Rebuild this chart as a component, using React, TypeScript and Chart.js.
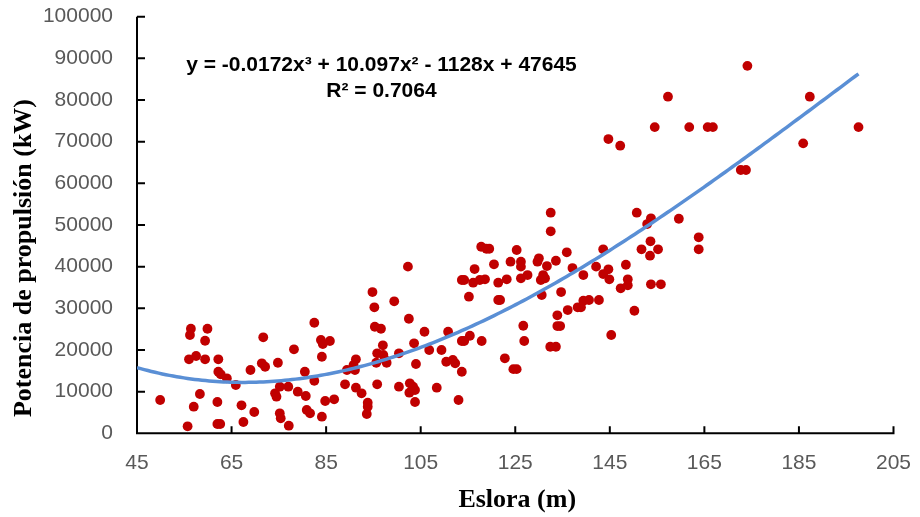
import React, { useEffect, useRef } from "react";
import { Chart, registerables } from "chart.js";

Chart.register(...registerables);

// ---- Data ----
const eslora: number[] = [
  49.9, 55.7, 56.0, 56.2, 56.4, 57.0, 57.5, 58.3, 59.4, 59.4, 59.9, 62.0, 62.0, 62.6, 62.2, 62.2, 62.7, 64.0, 65.9, 67.1,
  67.5, 69.0, 69.8, 71.4, 71.7, 72.1, 74.2, 74.5, 74.8, 75.2, 75.2, 75.4, 77.0, 77.1, 78.2, 79.0, 80.5, 80.7, 80.9, 81.6,
  82.5, 82.5, 83.9, 84.3, 84.1, 84.1, 84.8, 85.8, 86.7,
  89.0, 89.4, 90.8, 91.1, 91.3, 91.3, 92.5, 93.6, 93.8, 93.8, 94.8, 95.2, 95.3, 95.6, 95.8, 95.8, 96.6, 97.0, 97.1, 97.5,
  97.8, 99.4, 100.4, 100.4, 102.3, 102.5, 102.6, 102.7, 103.4, 103.6, 103.8, 103.8, 104.0, 105.8, 106.8, 108.4, 109.4, 110.4,
  110.8, 111.8, 112.3, 113.0, 113.7, 113.7, 113.7, 114.2, 114.2, 115.2, 115.4, 116.1, 116.4, 117.5, 117.8, 117.9, 118.6,
  118.9, 119.5, 120.5, 121.4, 121.4, 121.8,
  122.8, 123.2, 124.0, 124.6, 125.3, 125.3, 126.2, 126.2, 126.2, 126.7, 126.9, 127.6, 129.7, 130.0, 130.4, 130.6, 130.9,
  131.3, 131.7, 132.4, 132.5, 132.5, 133.6, 133.6, 133.9, 133.9, 134.5, 134.7, 135.9, 136.1, 137.1, 138.2, 138.9, 139.4,
  139.4, 140.6, 142.1, 142.7, 143.6, 143.6, 144.7, 144.9, 145.3, 147.3, 148.4, 148.8, 148.8, 150.2, 150.7, 151.7, 153.5,
  153.7, 155.8,
  144.7, 147.2, 152.9, 153.6, 153.7, 155.2, 154.5, 157.3, 159.6, 161.8, 163.8, 163.8, 165.7, 166.8, 172.7, 173.8, 174.1,
  185.9, 187.3, 197.6,
];

const potencia: number[] = [
  7990, 1680, 17760, 23590, 25100, 6380, 18550, 9430, 17760, 22220, 25100, 7510, 2230, 2230, 17760, 14780, 14160, 13200, 11590, 6720,
  2710, 15190, 5110, 16800, 23040, 15980, 9600, 8780, 16940, 11180, 4800, 3600, 11180, 1820, 20160, 9980, 14780, 8950, 5590, 4800,
  26540, 12620, 22390, 21430, 18380, 3980, 7750, 22150, 8160,
  11760, 15190, 16390, 15190, 17760, 10940, 9600, 4630, 7340, 6380, 33910, 30240, 25580, 16940, 19200, 11760, 25100, 21120, 18790, 17590,
  16940, 31680, 19200, 11180, 40000, 27500, 9740, 12000, 11180, 21600, 10390, 7510, 16630, 24380, 19990, 10940, 19990, 17180,
  24380, 17590, 16800, 7990, 36800, 22150, 14780, 36800, 22150, 32790, 23420, 36150, 39430, 36800, 44780, 22150, 36960,
  44300, 44300, 40560, 36150, 32000, 32000,
  18000, 36960, 41190, 15400, 15400, 44000, 41190, 40000, 37200, 25820, 22150, 37990, 41190, 42000, 36800, 33190, 37990,
  37200, 40150, 20780, 52950, 48480, 41420, 20780, 28320, 25750, 25750, 33910, 43440, 29590, 39670, 30240, 30240, 37990,
  31830, 32000, 40000, 32000, 44160, 38230, 39360, 36960, 23590, 34800, 40460, 36960, 35520, 29420, 52950, 44160, 42630,
  35760, 35760,
  70630, 69030, 50230, 46080, 51600, 44160, 73500, 80800, 51500, 73500, 47040, 44160, 73500, 73500, 63200, 63200, 88200,
  69600, 80800, 73500,
];

const xTickValues: number[] = [45, 65, 85, 105, 125, 145, 165, 185, 205];
const yTickValues: number[] = [0, 10000, 20000, 30000, 40000, 50000, 60000, 70000, 80000, 90000, 100000];

// Polynomial trendline as printed on the chart: y = a x^3 + b x^2 + c x + d
const trendCoeffs: number[] = [-0.0172, 10.097, -1128, 47645];
const trendRange: number[] = [45, 197.6];

const equationText = "y = -0.0172x³ + 10.097x² - 1128x + 47645";
const r2Text = "R² = 0.7064";
const xTitle = "Eslora (m)";
const yTitle = "Potencia de propulsión (kW)";

function trendValue(x: number): number {
  const [a, b, c, d] = trendCoeffs;
  return a * x * x * x + b * x * x + c * x + d;
}

function buildTrend() {
  const pts: { x: number; y: number }[] = [];
  const [x0, x1] = trendRange;
  const n = 200;
  for (let i = 0; i <= n; i++) {
    const x = x0 + ((x1 - x0) * i) / n;
    pts.push({ x, y: trendValue(x) });
  }
  return pts;
}

const insideAxesPlugin = {
  id: "insideAxes",
  beforeDatasetsDraw(chart: any) {
    const { ctx, chartArea: a, scales } = chart;
    const xs = scales.x;
    const ys = scales.y;
    ctx.save();
    ctx.strokeStyle = "#000000";
    ctx.lineWidth = 2;
    ctx.lineCap = "butt";
    ctx.beginPath();
    ctx.moveTo(a.left, a.top);
    ctx.lineTo(a.left, a.bottom + 1);
    ctx.moveTo(a.left - 1, a.bottom);
    ctx.lineTo(a.right + 1, a.bottom);
    ys.ticks.forEach((t: any) => {
      const py = ys.getPixelForValue(t.value);
      ctx.moveTo(a.left, py);
      ctx.lineTo(a.left + 8, py);
    });
    xs.ticks.forEach((t: any) => {
      const px = xs.getPixelForValue(t.value);
      ctx.moveTo(px, a.bottom);
      ctx.lineTo(px, a.bottom - 7);
    });
    ctx.stroke();
    ctx.restore();
  },
};

const textPlugin = {
  id: "chartTexts",
  afterDraw(chart: any) {
    const { ctx, chartArea: a } = chart;
    ctx.save();
    // trendline equation
    ctx.fillStyle = "#000000";
    ctx.font = "bold 21px 'Liberation Sans', Arial, sans-serif";
    ctx.textAlign = "center";
    ctx.textBaseline = "alphabetic";
    ctx.fillText(equationText, 381.5, 71);
    ctx.fillText(r2Text, 381.5, 97);

    // axis titles
    ctx.font = "bold 26px 'Liberation Serif', 'Times New Roman', serif";
    ctx.fillText(xTitle, (a.left + a.right) / 2 + 2, 507);
    ctx.translate(31, 258);
    ctx.rotate(-Math.PI / 2);
    ctx.fillText(yTitle, 0, 0);
    ctx.restore();
  },
};

function zeroPadding(scale: any) {
  scale.paddingTop = 0;
  scale.paddingBottom = 0;
  scale.paddingLeft = 0;
  scale.paddingRight = 0;
}

export default function App() {
  const canvasRef = useRef<HTMLCanvasElement | null>(null);

  useEffect(() => {
    const canvas = canvasRef.current;
    if (!canvas) return;
    const scatterData = eslora.map((x, i) => ({ x, y: potencia[i] }));
    const tickFont = { family: "'Liberation Sans', Arial, sans-serif", size: 21 };

    const chart = new Chart(canvas, {
      type: "scatter",
      data: {
        datasets: [
          {
            label: "Tendencia",
            data: buildTrend(),
            showLine: true,
            borderColor: "#5a8fd5",
            borderWidth: 3.5,
            pointRadius: 0,
            pointHoverRadius: 0,
            order: 0,
          } as any,
          {
            label: "Potencia",
            data: scatterData,
            backgroundColor: "#c00000",
            borderColor: "#c00000",
            borderWidth: 0,
            pointRadius: 4.9,
            order: 1,
          },
        ],
      },
      options: {
        animation: false,
        responsive: false,
        maintainAspectRatio: false,
        layout: { padding: { left: 0, right: 26.5, top: 16.7, bottom: 0 } },
        plugins: {
          legend: { display: false },
          tooltip: { enabled: false },
          title: { display: false },
        },
        scales: {
          x: {
            type: "linear",
            min: xTickValues[0],
            max: xTickValues[xTickValues.length - 1],
            afterBuildTicks: (scale: any) => {
              scale.ticks = xTickValues.map((v) => ({ value: v }));
            },
            afterFit: (scale: any) => {
              scale.height = 83.7;
              zeroPadding(scale);
            },
            grid: { display: false, drawTicks: false },
            border: { display: false },
            ticks: {
              color: "#595959",
              font: tickFont,
              padding: 17,
              maxRotation: 0,
              autoSkip: false,
              callback: (v: any) => String(v),
            },
          },
          y: {
            type: "linear",
            min: yTickValues[0],
            max: yTickValues[yTickValues.length - 1],
            afterBuildTicks: (scale: any) => {
              scale.ticks = yTickValues.map((v) => ({ value: v }));
            },
            afterFit: (scale: any) => {
              scale.width = 137;
              zeroPadding(scale);
            },
            grid: { display: false, drawTicks: false },
            border: { display: false },
            ticks: {
              color: "#595959",
              font: tickFont,
              padding: 24,
              autoSkip: false,
              callback: (v: any) => String(v),
            },
          },
        },
      },
      plugins: [insideAxesPlugin, textPlugin],
    } as any);

    return () => {
      chart.destroy();
    };
  }, []);

  return (
    <div style={{ position: "fixed", left: 0, top: 0, width: 920, height: 517, background: "#ffffff" }}>
      <canvas ref={canvasRef} width={920} height={517} style={{ display: "block" }} />
    </div>
  );
}
